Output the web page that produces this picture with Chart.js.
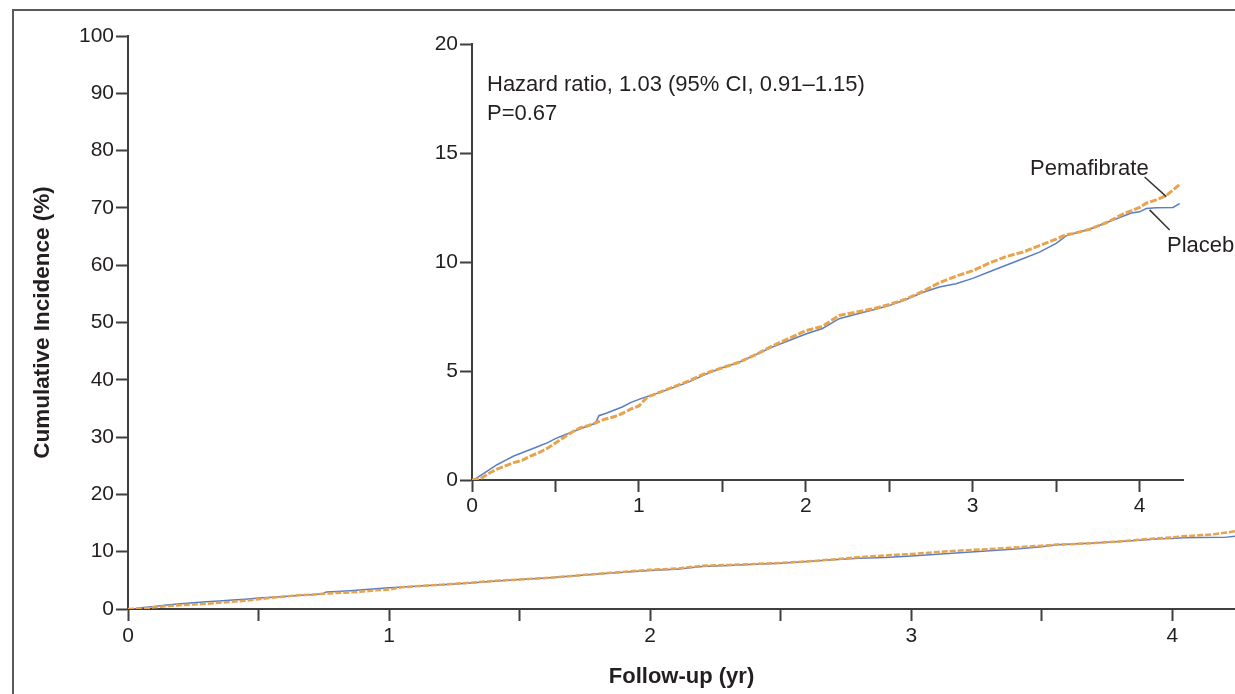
<!DOCTYPE html>
<html>
<head>
<meta charset="utf-8">
<script src="https://cdn.jsdelivr.net/npm/chart.js@4.4.1/dist/chart.umd.min.js"></script>
<style>
  html, body { margin: 0; padding: 0; background: #fff; overflow: hidden; width: 1235px; height: 694px; }
  #frame { position: absolute; left: 12px; top: 9px; width: 1400px; height: 900px; border-left: 2px solid #5a5a5a; border-top: 2px solid #5a5a5a; }
  #mainWrap { position: absolute; left: 0; top: 0; width: 1235px; height: 694px; }
  #insetWrap { position: absolute; left: 400px; top: 20px; width: 835px; height: 510px; }
  .note { position: absolute; font-family: "Liberation Sans", Arial, sans-serif; font-size: 22px; color: #231f20; white-space: nowrap; line-height: 1; }
</style>
</head>
<body>
<div id="frame"></div>
<div id="mainWrap"><canvas id="mainChart" width="1235" height="694"></canvas></div>
<div id="insetWrap"><canvas id="insetChart" width="835" height="510"></canvas></div>
<div class="note" style="left:487px; top:73px;">Hazard ratio, 1.03 (95% CI, 0.91–1.15)</div>
<div class="note" style="left:487px; top:102px;">P=0.67</div>
<div class="note" style="left:1030px; top:157px;">Pemafibrate</div>
<div class="note" style="left:1167px; top:234px;">Placebo</div>
<script>
// ---- data ----
const pemaTime = [0, 0.05, 0.1, 0.15, 0.2, 0.25, 0.3, 0.35, 0.4, 0.45, 0.5, 0.55, 0.6, 0.65, 0.7, 0.75, 0.8, 0.85, 0.9, 0.95, 1.0, 1.05, 1.1, 1.2, 1.3, 1.4, 1.5, 1.6, 1.7, 1.8, 1.9, 2.0, 2.1, 2.2, 2.3, 2.4, 2.5, 2.6, 2.7, 2.8, 2.9, 3.0, 3.1, 3.2, 3.3, 3.4, 3.5, 3.56, 3.6, 3.7, 3.8, 3.9, 4.0, 4.04, 4.1, 4.16, 4.2, 4.24];
const pemaRisk = [0, 0.05, 0.3, 0.5, 0.65, 0.8, 0.9, 1.1, 1.25, 1.45, 1.7, 1.95, 2.2, 2.4, 2.5, 2.65, 2.8, 2.9, 3.05, 3.25, 3.4, 3.8, 3.95, 4.25, 4.55, 4.9, 5.15, 5.4, 5.75, 6.15, 6.5, 6.85, 7.05, 7.55, 7.7, 7.85, 8.05, 8.3, 8.65, 9.05, 9.35, 9.6, 9.95, 10.25, 10.45, 10.75, 11.05, 11.26, 11.3, 11.5, 11.8, 12.2, 12.5, 12.7, 12.85, 13.05, 13.3, 13.56];
const placeboTime = [0, 0.03, 0.05, 0.1, 0.15, 0.2, 0.25, 0.3, 0.35, 0.4, 0.45, 0.5, 0.55, 0.6, 0.65, 0.7, 0.74, 0.76, 0.8, 0.85, 0.9, 0.95, 1.0, 1.05, 1.1, 1.2, 1.3, 1.4, 1.5, 1.6, 1.7, 1.8, 1.9, 2.0, 2.1, 2.2, 2.3, 2.4, 2.5, 2.6, 2.7, 2.8, 2.9, 3.0, 3.1, 3.2, 3.3, 3.4, 3.5, 3.56, 3.6, 3.7, 3.8, 3.9, 3.95, 4.0, 4.04, 4.1, 4.2, 4.24];
const placeboRisk = [0, 0.1, 0.2, 0.45, 0.7, 0.9, 1.1, 1.25, 1.4, 1.55, 1.7, 1.9, 2.05, 2.2, 2.35, 2.5, 2.6, 2.95, 3.05, 3.2, 3.35, 3.55, 3.7, 3.83, 3.95, 4.22, 4.5, 4.85, 5.15, 5.4, 5.75, 6.1, 6.4, 6.7, 6.95, 7.4, 7.6, 7.8, 8.0, 8.28, 8.6, 8.85, 9.0, 9.25, 9.55, 9.85, 10.15, 10.45, 10.85, 11.2, 11.3, 11.5, 11.8, 12.1, 12.25, 12.3, 12.45, 12.49, 12.5, 12.68];
const xTicks = [0, 0.5, 1, 1.5, 2, 2.5, 3, 3.5, 4];
const mainYTicks = [0, 10, 20, 30, 40, 50, 60, 70, 80, 90, 100];
const insetYTicks = [0, 5, 10, 15, 20];
// callout leader lines (data coordinates of the inset): [x1, y1, x2, y2]
const pemaLeader = [4.03, 13.9, 4.16, 13.0];
const placeboLeader = [4.06, 12.39, 4.18, 11.47];

const AXIS = '#3f3f3f';
const TEXT = '#231f20';
const ORANGE = '#e8a34c';
const BLUE = '#5a7ec4';
const FONT = '"Liberation Sans", Arial, sans-serif';

function pts(t, v) { return t.map((x, i) => ({ x: x, y: v[i] })); }
function datasets(wide) {
  return [
    { label: 'Pemafibrate', data: pts(pemaTime, pemaRisk), borderColor: ORANGE, borderWidth: wide ? 3 : 2.5, borderDash: wide ? [7, 2] : [6, 2], pointRadius: 0, fill: false, tension: 0 },
    { label: 'Placebo', data: pts(placeboTime, placeboRisk), borderColor: BLUE, borderWidth: 1.5, pointRadius: 0, fill: false, tension: 0 }
  ];
}
function fixedTicks(list) { return function (s) { s.ticks = list.map(v => ({ value: v })); }; }
function intLabel(v) { return Number.isInteger(v) ? String(v) : ''; }

Chart.defaults.font.family = FONT;
Chart.defaults.color = TEXT;

new Chart(document.getElementById('mainChart'), {
  type: 'line',
  data: { datasets: datasets(false) },
  options: {
    responsive: false, animation: false,
    layout: { padding: { left: 0, top: 36, right: 0, bottom: 0 } },
    plugins: { legend: { display: false }, tooltip: { enabled: false } },
    scales: {
      x: {
        type: 'linear', min: 0, max: 4.24,
        afterBuildTicks: fixedTicks(xTicks),
        afterFit: s => { s.height = 85; },
        ticks: { callback: intLabel, font: { size: 21 }, color: TEXT, padding: 3, maxRotation: 0, autoSkip: false },
        grid: { drawOnChartArea: false, drawTicks: true, tickLength: 12, tickColor: AXIS, tickWidth: 2 },
        border: { display: true, color: AXIS, width: 2 },
        title: { display: true, text: 'Follow-up (yr)', font: { size: 22, weight: 'bold' }, color: TEXT, padding: { top: 0, bottom: 4 } }
      },
      y: {
        type: 'linear', min: 0, max: 100,
        afterBuildTicks: fixedTicks(mainYTicks),
        afterFit: s => { s.width = 128; },
        ticks: { font: { size: 21 }, color: TEXT, padding: 2, autoSkip: false },
        grid: { drawOnChartArea: false, drawTicks: true, tickLength: 12, tickColor: AXIS, tickWidth: 2 },
        border: { display: true, color: AXIS, width: 2 },
        title: { display: true, text: 'Cumulative Incidence (%)', font: { size: 22.5, weight: 'bold' }, color: TEXT, padding: { top: 29, bottom: 0 } }
      }
    }
  }
});

const leaderPlugin = {
  id: 'leaders',
  afterDatasetsDraw(chart) {
    const { ctx, scales: { x, y } } = chart;
    ctx.save();
    ctx.strokeStyle = '#333';
    ctx.lineWidth = 1.5;
    [pemaLeader, placeboLeader].forEach(l => {
      ctx.beginPath();
      ctx.moveTo(x.getPixelForValue(l[0]), y.getPixelForValue(l[1]));
      ctx.lineTo(x.getPixelForValue(l[2]), y.getPixelForValue(l[3]));
      ctx.stroke();
    });
    ctx.restore();
  }
};

new Chart(document.getElementById('insetChart'), {
  type: 'line',
  data: { datasets: datasets(true) },
  plugins: [leaderPlugin],
  options: {
    responsive: false, animation: false,
    layout: { padding: { left: 0, top: 24, right: 52, bottom: 0 } },
    plugins: { legend: { display: false }, tooltip: { enabled: false } },
    scales: {
      x: {
        type: 'linear', min: 0, max: 4.26,
        afterBuildTicks: fixedTicks(xTicks),
        afterFit: s => { s.height = 50; },
        ticks: { callback: intLabel, font: { size: 21 }, color: TEXT, padding: 2, maxRotation: 0, autoSkip: false },
        grid: { drawOnChartArea: false, drawTicks: true, tickLength: 12, tickColor: AXIS, tickWidth: 2 },
        border: { display: true, color: AXIS, width: 2 }
      },
      y: {
        type: 'linear', min: 0, max: 20,
        afterBuildTicks: fixedTicks(insetYTicks),
        afterFit: s => { s.width = 72; },
        ticks: { font: { size: 21 }, color: TEXT, padding: 2, autoSkip: false },
        grid: { drawOnChartArea: false, drawTicks: true, tickLength: 12, tickColor: AXIS, tickWidth: 2 },
        border: { display: true, color: AXIS, width: 2 }
      }
    }
  }
});
</script>
</body>
</html>
